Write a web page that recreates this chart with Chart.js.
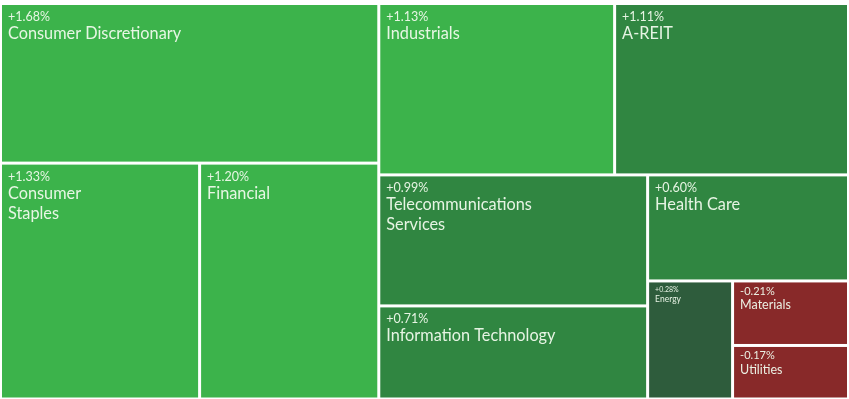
<!DOCTYPE html>
<html>
<head>
<meta charset="utf-8">
<script src="https://cdn.jsdelivr.net/npm/chart.js@4.4.1/dist/chart.umd.min.js"></script>
<style>
    html, body { margin: 0; padding: 0; background: #fff; }
</style>
</head>
<body>
<canvas id="chart" width="849" height="399"></canvas>
<script>
// sector names (\n = line break in the label)
let sectors = ['Consumer Discretionary', 'Consumer\nStaples', 'Financial', 'Industrials', 'A-REIT',
    'Telecommunications\nServices', 'Information Technology', 'Health Care', 'Energy', 'Materials', 'Utilities']
// size of each tile (index weight)
let weights = [18.0, 14.0, 12.6, 12.05, 11.95, 10.5, 7.46, 6.35, 2.99, 2.23, 1.85]
// daily change in %
let changes = [1.68, 1.33, 1.20, 1.13, 1.11, 0.99, 0.71, 0.60, 0.28, -0.21, -0.17]

function colorFor(change) {
    if (change >= 1.12) return 'rgb(60,179,75)'
    if (change >= 0.5) return 'rgb(48,134,65)'
    if (change >= 0) return 'rgb(46,92,60)'
    return 'rgb(136,41,41)'
}

// binary treemap, split direction alternates with depth
function layout(items, x0, y0, x1, y1, depth, out) {
    if (items.length == 1) {
        out.push(Object.assign({}, items[0], { x0, y0, x1, y1 }))
        return
    }
    let total = items.reduce((s, d) => s + d.w, 0)
    let best = 1, bestDiff = Infinity, cum = 0
    for (let k = 1; k < items.length; k++) {
        cum += items[k - 1].w
        let diff = Math.abs(cum - total / 2)
        if (diff < bestDiff) { bestDiff = diff; best = k }
    }
    let left = items.slice(0, best), right = items.slice(best)
    let frac = left.reduce((s, d) => s + d.w, 0) / total
    if (depth % 2 == 0) {
        let xk = x0 + (x1 - x0) * frac
        layout(left, x0, y0, xk, y1, depth + 1, out)
        layout(right, xk, y0, x1, y1, depth + 1, out)
    } else {
        let yk = y0 + (y1 - y0) * frac
        layout(left, x0, y0, x1, yk, depth + 1, out)
        layout(right, x0, yk, x1, y1, depth + 1, out)
    }
}

let items = sectors.map((s, i) => ({ name: s, w: weights[i], change: changes[i] }))
let cells = []
layout(items, 0, 0, 1, 1, 0, cells)

function fmt(v) {
    return (v >= 0 ? '+' : '') + v.toFixed(2) + '%'
}

const treemapPlugin = {
    id: 'treemapCells',
    beforeDatasetsDraw(chart) {
        let ctx = chart.ctx
        let xs = chart.scales.x, ys = chart.scales.y
        let gap = 1.5
        for (let c of cells) {
            let left = xs.getPixelForValue(c.x0) + gap
            let right = xs.getPixelForValue(c.x1) - gap
            let top = ys.getPixelForValue(c.y0) + gap
            let bottom = ys.getPixelForValue(c.y1) - gap
            let w = right - left, h = bottom - top
            ctx.save()
            ctx.fillStyle = colorFor(c.change)
            ctx.fillRect(left, top, w, h)
            ctx.beginPath()
            ctx.rect(left, top, w, h)
            ctx.clip()

            let f
            if (w < 100) f = { pct: 7, name: 8.5, pctY: 9.5, nameY: 20, lh: 10 }
            else if (w < 150) f = { pct: 11, name: 12.5, pctY: 12.5, nameY: 27, lh: 15 }
            else f = { pct: 12.5, name: 16.3, pctY: 16, nameY: 34, lh: 20 }

            ctx.fillStyle = 'rgba(240,250,236,0.95)'
            ctx.textBaseline = 'alphabetic'
            ctx.textAlign = 'left'
            ctx.font = f.pct + 'px Lato'
            ctx.fillText(fmt(c.change), left + 6, top + f.pctY)
            ctx.font = f.name + 'px Lato'
            c.name.split('\n').forEach((line, i) => {
                ctx.fillText(line, left + 6, top + f.nameY + i * f.lh)
            })
            ctx.restore()
        }
    }
}

new Chart(document.getElementById('chart'), {
    type: 'scatter',
    data: {
        datasets: [{
            label: 'Sectors',
            data: cells.map(c => ({ x: (c.x0 + c.x1) / 2, y: (c.y0 + c.y1) / 2 })),
            pointRadius: 0
        }]
    },
    options: {
        responsive: false,
        animation: false,
        layout: { padding: { top: 3.5, left: 0.5, right: 0.5, bottom: 0 } },
        scales: {
            x: { display: false, min: 0, max: 1 },
            y: { display: false, min: 0, max: 1, reverse: true }
        },
        plugins: {
            legend: { display: false },
            tooltip: { enabled: false }
        }
    },
    plugins: [treemapPlugin]
})
</script>
</body>
</html>
